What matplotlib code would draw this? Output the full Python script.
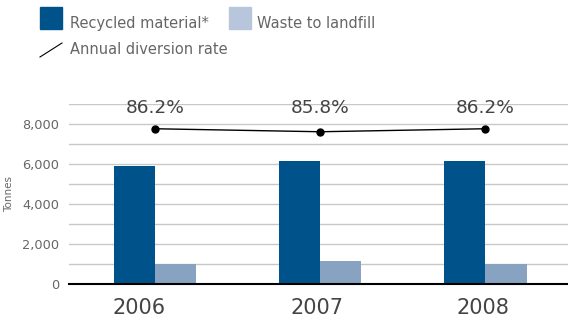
import matplotlib
matplotlib.use("Agg")
import matplotlib.pyplot as plt
import matplotlib.transforms as mtransforms
from matplotlib.patches import Rectangle
from matplotlib.lines import Line2D
import numpy as np

plt.rcParams['font.family'] = ['DejaVu Sans']

years = ["2006", "2007", "2008"]
recycled = [5900, 6150, 6150]
landfill = [1000, 1150, 1000]
diversion_rate = [86.2, 85.8, 86.2]
rate_labels = ["86.2%", "85.8%", "86.2%"]

DARK = "#00538A"
LIGHT = "#88A2C2"
LIGHT_LEG = "#B8C6DB"
TXT = "#666666"

W, H = 568, 321
fig = plt.figure(figsize=(W / 100, H / 100), dpi=100)
ax = fig.add_axes([69 / W, (H - 284) / H, (W - 69) / W, (284 - 104) / H])

x = np.arange(len(years))
bw = 0.25
ax.bar(x - bw / 2, recycled, width=bw, color=DARK, zorder=3)
ax.bar(x + bw / 2, landfill, width=bw, color=LIGHT, zorder=3)

ax.set_ylim(0, 9000)
ax.set_xlim(-0.52, 2.5)
ax.set_yticks(np.arange(0, 9001, 1000), minor=False)
ax.set_yticklabels([f"{v:,}" if v % 2000 == 0 else "" for v in range(0, 9001, 1000)])
ax.grid(axis='y', color="#C8C8C8", linewidth=1, zorder=0)
ax.set_axisbelow(True)
for s in ['top', 'right', 'left']:
    ax.spines[s].set_visible(False)
ax.spines['bottom'].set_color('black')
ax.spines['bottom'].set_linewidth(1.5)
ax.spines['bottom'].set_zorder(4)
ax.tick_params(axis='y', length=0, labelsize=9.3, labelcolor=TXT, pad=7)
ax.set_xticks(x)
ax.set_xticklabels(years)
ax.tick_params(axis='x', length=0, labelsize=15, labelcolor="#444444", pad=10)
# slight horizontal offsets of the year labels as in the reference
label_shift_px = [-16, -3, -2]
for lab, dx in zip(ax.get_xticklabels(), label_shift_px):
    lab.set_transform(lab.get_transform() +
                      mtransforms.ScaledTranslation(dx / 100, 0, fig.dpi_scale_trans))
ax.set_ylabel("Tonnes", fontsize=7.5, color=TXT, labelpad=6)

ax2 = ax.twinx()
ax2.set_ylim(65.5, 89.5)
ax2.axis('off')
ax2.plot(x, diversion_rate, color='black', linewidth=1, marker='o', markersize=5, zorder=5)
lab_tr = mtransforms.blended_transform_factory(ax2.transData, ax2.transAxes)
for xi, lab in zip(x, rate_labels):
    ax2.text(xi, 0.978, lab, transform=lab_tr, ha='center', va='center',
             fontsize=13.3, color="#444444")

# legend (figure pixel coords)
def px(xp, yp):
    return xp / W, 1 - yp / H

fig.patches.append(Rectangle(px(40, 29), 22 / W, 22 / H, transform=fig.transFigure,
                             color=DARK, figure=fig))
fig.text(*px(70, 28), "Recycled material*", fontsize=10.5, color=TXT, va='baseline')
fig.patches.append(Rectangle(px(229, 29), 22 / W, 22 / H, transform=fig.transFigure,
                             color=LIGHT_LEG, figure=fig))
fig.text(*px(257, 28), "Waste to landfill", fontsize=10.5, color=TXT, va='baseline')
fig.lines.append(Line2D([40 / W, 62 / W], [1 - 57 / H, 1 - 43 / H], transform=fig.transFigure,
                        color='black', linewidth=0.8, figure=fig))
fig.text(*px(70, 54), "Annual diversion rate", fontsize=10.5, color=TXT, va='baseline')

fig.savefig("out.png", dpi=100)
